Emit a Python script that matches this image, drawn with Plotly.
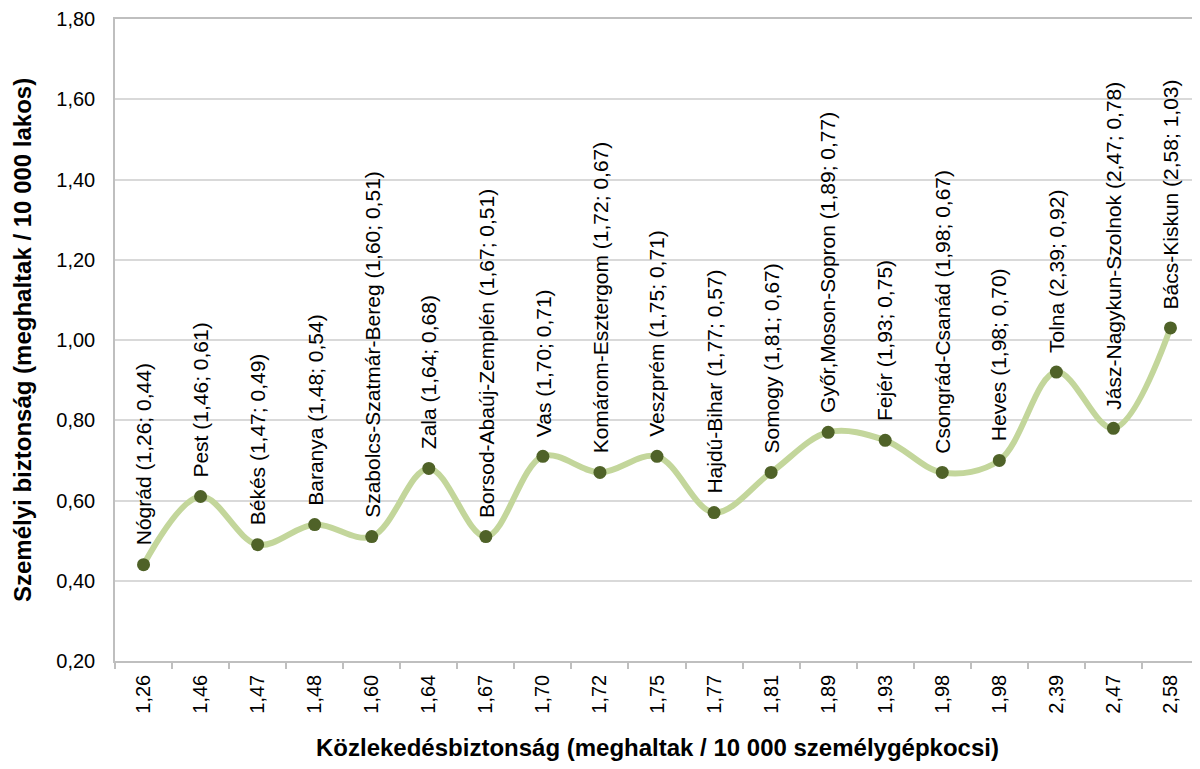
import plotly.graph_objects as go

counties = ["Nógrád", "Pest", "Békés", "Baranya", "Szabolcs-Szatmár-Bereg", "Zala",
            "Borsod-Abaúj-Zemplén", "Vas", "Komárom-Esztergom", "Veszprém", "Hajdú-Bihar",
            "Somogy", "Győr,Moson-Sopron", "Fejér", "Csongrád-Csanád", "Heves", "Tolna",
            "Jász-Nagykun-Szolnok", "Bács-Kiskun"]
traffic = [1.26, 1.46, 1.47, 1.48, 1.60, 1.64, 1.67, 1.70, 1.72, 1.75, 1.77, 1.81,
           1.89, 1.93, 1.98, 1.98, 2.39, 2.47, 2.58]
personal = [0.44, 0.61, 0.49, 0.54, 0.51, 0.68, 0.51, 0.71, 0.67, 0.71, 0.57, 0.67,
            0.77, 0.75, 0.67, 0.70, 0.92, 0.78, 1.03]
y_ticks = [0.2, 0.4, 0.6, 0.8, 1.0, 1.2, 1.4, 1.6, 1.8]


def hu(v):
    return f"{v:.2f}".replace(".", ",")


tick_text = [hu(v) for v in traffic]
labels = [f"{c} ({hu(a)}; {hu(b)})" for c, a, b in zip(counties, traffic, personal)]

FONT = "Liberation Sans, Arial, sans-serif"

fig = go.Figure()
fig.add_trace(go.Scatter(
    x=counties, y=personal, mode="lines",
    line=dict(color="#C3D69B", width=6, shape="spline", smoothing=1.0),
    hoverinfo="skip", showlegend=False))
fig.add_trace(go.Scatter(
    x=counties, y=personal, mode="markers",
    marker=dict(color="#4F6228", size=13),
    showlegend=False))

for c, y, t in zip(counties, personal, labels):
    fig.add_annotation(x=c, y=y, text=t, textangle=-90, showarrow=False,
                       xanchor="center", yanchor="bottom", yshift=17,
                       font=dict(family=FONT, size=21, color="#000000"))

fig.add_annotation(xref="paper", yref="paper", x=0.5, y=0, yshift=-86,
                   text="<b>Közlekedésbiztonság (meghaltak / 10 000 személygépkocsi)</b>",
                   showarrow=False, xanchor="center", yanchor="middle",
                   font=dict(family=FONT, size=24, color="#000000"))
fig.add_annotation(xref="paper", yref="paper", x=-0.0858, y=0.5, textangle=-90,
                   text="<b>Személyi biztonság (meghaltak / 10 000 lakos)</b>",
                   showarrow=False, xanchor="center", yanchor="middle",
                   font=dict(family=FONT, size=24, color="#000000"))

fig.update_xaxes(
    type="category", range=[-0.5, len(counties) - 0.5],
    tickmode="array", tickvals=counties, ticktext=tick_text,
    tickangle=-90, tickson="boundaries", ticks="outside", ticklen=6,
    tickcolor="#BFBFBF", tickwidth=1.5, automargin=False,
    showline=True, linecolor="#BFBFBF", linewidth=1.5, mirror=True,
    showgrid=False, zeroline=False, ticklabelstandoff=4,
    tickfont=dict(family=FONT, size=20, color="#000000"))
fig.update_yaxes(
    range=[0.2, 1.8], tickmode="array", tickvals=y_ticks, tickformat=".2f",
    showline=True, linecolor="#BFBFBF", linewidth=1.5, automargin=False,
    showgrid=True, gridcolor="#D9D9D9", gridwidth=1.5, zeroline=False,
    ticks="", ticklabelstandoff=14,
    tickfont=dict(family=FONT, size=20, color="#000000"))

# page body has an 8px default margin; figure sized so plot area lands where the reference's does
fig.update_layout(
    width=1192, height=761, separators=", ",
    margin=dict(l=107, r=1, t=11, b=108),
    plot_bgcolor="#FFFFFF", paper_bgcolor="#FFFFFF",
    font=dict(family=FONT))

fig.write_html("out.html")
